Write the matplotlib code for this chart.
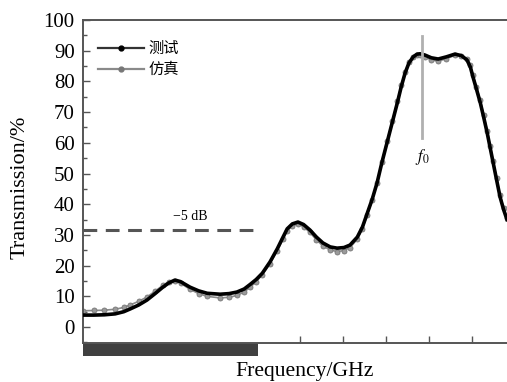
import matplotlib
matplotlib.use('Agg')
import matplotlib.pyplot as plt
from matplotlib.lines import Line2D
from matplotlib.patches import Rectangle
from matplotlib.ticker import MultipleLocator

plt.rcParams['font.family'] = ['Liberation Serif', 'Noto Sans CJK SC', 'DejaVu Sans']
plt.rcParams['mathtext.fontset'] = 'stix'

# Frequency (arbitrary tick units, no labels in the original)
freq = [-0.05, 0.20, 0.45, 0.70, 0.90, 1.05, 1.25, 1.44, 1.62, 1.81, 1.95, 2.09,
        2.22, 2.44, 2.64, 2.84, 3.14, 3.35, 3.53, 3.70, 3.84, 3.98, 4.12, 4.30,
        4.47, 4.60, 4.70, 4.82, 4.95, 5.08, 5.23, 5.38, 5.53, 5.70, 5.86, 6.02,
        6.16, 6.33, 6.45, 6.56, 6.68, 6.79, 6.90, 7.02, 7.14, 7.26, 7.35, 7.44,
        7.53, 7.63, 7.72, 7.79, 7.90, 8.05, 8.21, 8.40, 8.60, 8.75, 8.88, 8.96,
        9.02, 9.10, 9.19, 9.27, 9.35, 9.42, 9.49, 9.57, 9.65, 9.73, 9.81]
measured = [3.9, 3.9, 4.0, 4.3, 5.0, 5.9, 7.2, 8.8, 10.8, 13.0, 14.4, 15.3,
            14.8, 13.0, 11.8, 11.0, 10.7, 10.9, 11.4, 12.4, 13.9, 15.5, 17.5, 21.2,
            25.5, 29.2, 32.0, 33.6, 34.2, 33.4, 31.6, 29.3, 27.4, 26.1, 25.7, 25.9,
            26.7, 29.3, 32.6, 37.0, 41.8, 47.0, 53.5, 60.0, 66.5, 73.0, 78.2, 82.7,
            86.0, 88.0, 88.9, 89.0, 88.6, 87.7, 87.3, 88.0, 88.9, 88.4, 87.0, 84.6,
            81.4, 77.5, 73.0, 68.2, 63.2, 58.3, 53.4, 47.8, 42.3, 38.3, 35.0]
simulated = [5.3, 5.4, 5.5, 5.8, 6.4, 7.2, 8.4, 9.8, 11.6, 13.6, 14.8, 15.0,
             14.3, 12.3, 10.9, 10.0, 9.5, 9.7, 10.3, 11.4, 13.0, 14.8, 17.0, 20.6,
             24.9, 28.6, 31.3, 33.0, 33.5, 32.7, 30.8, 28.4, 26.4, 25.1, 24.6, 24.9,
             25.9, 28.6, 32.0, 36.5, 41.5, 47.0, 53.8, 60.5, 67.0, 73.5, 78.7, 83.0,
             86.2, 88.0, 88.6, 88.5, 88.0, 87.0, 86.6, 87.4, 88.5, 88.3, 87.3, 85.2,
             82.0, 78.2, 73.8, 69.0, 64.0, 59.0, 54.0, 48.5, 43.0, 38.9, 35.5]

minus5db = 31.6
f0 = 7.83
stop_band = (-0.05, 4.02)

fig = plt.figure(figsize=(5.07, 3.82), dpi=100)
ax = fig.add_axes([0.1637, 0.102, 0.8363, 0.8456])

ax.plot(freq, simulated, color='#8a8a8a', lw=1.2, marker='o', ms=3.6,
        mfc='#9a9a9a', mec='#777777', mew=0.6, zorder=2)
ax.plot(freq, measured, color='black', lw=2.6, zorder=3)

# -5 dB reference line
ax.plot([stop_band[0], stop_band[1]], [minus5db, minus5db], color='#555555',
        lw=2.2, dashes=(4.5, 2.8), zorder=1)
ax.text(2.45, 36.0, '\u22125 dB', fontsize=10, ha='center', va='center')

# centre frequency marker
ax.plot([f0, f0], [61.6, 94.8], color='#b0b0b0', lw=2, zorder=4)
ax.text(f0, 55.3, '$f_0$', fontsize=12, ha='center', va='center')

# stop band bar below the axis
ax.add_patch(Rectangle((stop_band[0], -9.4), stop_band[1] - stop_band[0], 4.2,
                       facecolor='#404040', edgecolor='none', clip_on=False))

ax.set_xlim(-0.047, 9.81)
ax.set_ylim(-5.2, 100)
ax.set_xticks([5, 6, 7, 8, 9])
ax.set_xticklabels([])
ax.yaxis.set_major_locator(MultipleLocator(10))
ax.yaxis.set_minor_locator(MultipleLocator(5))
ax.set_yticks(range(0, 101, 10))
ax.tick_params(axis='both', which='both', direction='in', color='#555555', width=1)
ax.tick_params(axis='y', which='major', length=5, labelsize=15, pad=6)
ax.tick_params(axis='y', which='minor', length=3)
ax.tick_params(axis='x', which='major', length=5)
for s in ['left', 'top', 'bottom']:
    ax.spines[s].set_color('#555555')
    ax.spines[s].set_linewidth(1.4)
ax.spines['right'].set_visible(False)

legend_items = [
    Line2D([], [], color='#333333', lw=1.6, marker='o', ms=3.5, mfc='black', mec='black'),
    Line2D([], [], color='#8a8a8a', lw=1.6, marker='o', ms=3.5, mfc='#777777', mec='#777777'),
]
ax.legend(legend_items, ['测试', '仿真'], loc='upper left', bbox_to_anchor=(0.0, 0.985),
          frameon=False, prop={'family': ['Noto Sans CJK SC'], 'size': 11}, numpoints=1,
          handlelength=3.0, handletextpad=0.3, labelspacing=0.25, borderaxespad=0.6)

fig.text(304 / 507, 1 - 362 / 382, 'Frequency/GHz', fontsize=15.6, ha='center', va='top')
fig.text(20 / 507, 1 - 187 / 382, 'Transmission/%', fontsize=16, ha='center',
         va='center', rotation=90)

fig.savefig('out.png', dpi=100)
